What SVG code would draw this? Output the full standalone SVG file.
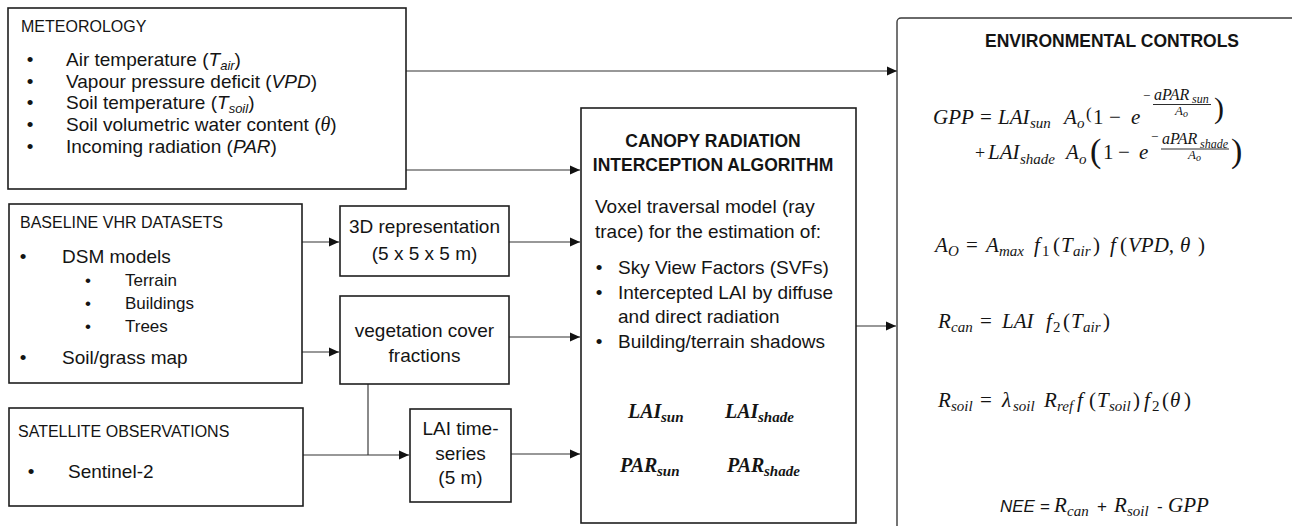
<svg xmlns="http://www.w3.org/2000/svg" width="1292" height="526" viewBox="0 0 1292 526">
<defs>
<marker id="ah" markerWidth="10" markerHeight="10" refX="10" refY="5" orient="auto" markerUnits="userSpaceOnUse"><path d="M0,0.5 L10,5 L0,9.5 Z" fill="#111"/></marker>
<style>
.box{fill:#fff;stroke:#1e1e1e;stroke-width:1.6}
.env{fill:#fff;stroke:#3a3a3a;stroke-width:1.4}
.conn{stroke:#333;stroke-width:1.2;fill:none}
.gray{stroke:#8a8a8a;stroke-width:2;fill:none}
.t{font-family:"Liberation Sans",Arial,sans-serif;font-size:19px;fill:#141414}
.h{font-size:16px}
.s{font-size:17px}
.c{text-anchor:middle}
.b{font-weight:bold;font-size:17.5px;text-anchor:middle}
.i{font-style:italic}
.m{font-family:"Liberation Serif","Times New Roman",serif;font-style:italic;font-size:21px;fill:#141414}
.sb{font-size:15px}
.up{font-style:normal}
.bm{font-weight:bold;font-size:20px}
.sf{font-family:"Liberation Sans",Arial,sans-serif;font-size:17px}
.bar{stroke:#141414;stroke-width:0.9}
</style>
</defs>
<rect width="1292" height="526" fill="#fff"/>

<g id="connectors">
<line class="conn" x1="406" y1="71" x2="897" y2="71" marker-end="url(#ah)"/>
<line class="conn" x1="406" y1="170" x2="580" y2="170" marker-end="url(#ah)"/>
<line class="conn" x1="302" y1="242" x2="339" y2="242" marker-end="url(#ah)"/>
<line class="conn" x1="302" y1="352" x2="339" y2="352" marker-end="url(#ah)"/>
<line class="conn" x1="509" y1="242" x2="580" y2="242" marker-end="url(#ah)"/>
<line class="conn" x1="509" y1="337" x2="580" y2="337" marker-end="url(#ah)"/>
<line class="gray" x1="368" y1="384" x2="368" y2="455"/>
<line class="conn" x1="303" y1="455" x2="409" y2="455" marker-end="url(#ah)"/>
<line class="conn" x1="511" y1="454" x2="580" y2="454" marker-end="url(#ah)"/>
<line class="conn" x1="856" y1="326" x2="896" y2="326" marker-end="url(#ah)"/>
</g>

<g id="meteorology">
<rect class="box" x="8" y="8" width="398" height="181"/>
<text class="t h" x="21" y="32">METEOROLOGY</text>
<text class="t c" x="30" y="66">•</text>
<text class="t" x="66" y="66">Air temperature (<tspan class="i">T</tspan><tspan class="i" font-size="13" dy="4">air</tspan><tspan dy="-4">)</tspan></text>
<text class="t c" x="30" y="88">•</text>
<text class="t" x="66" y="88">Vapour pressure deficit (<tspan class="i">VPD</tspan>)</text>
<text class="t c" x="30" y="109">•</text>
<text class="t" x="66" y="109">Soil temperature (<tspan class="i">T</tspan><tspan class="i" font-size="13" dy="4">soil</tspan><tspan dy="-4">)</tspan></text>
<text class="t c" x="30" y="131">•</text>
<text class="t" x="66" y="131">Soil volumetric water content (<tspan font-family="Liberation Serif, serif" font-style="italic" font-size="20">θ</tspan>)</text>
<text class="t c" x="30" y="153">•</text>
<text class="t" x="66" y="153">Incoming radiation (<tspan class="i">PAR</tspan>)</text>
</g>

<g id="baseline">
<rect class="box" x="9" y="204" width="293" height="179"/>
<text class="t h" x="20" y="228">BASELINE VHR DATASETS</text>
<text class="t c" x="23" y="263">•</text>
<text class="t" x="62" y="263">DSM models</text>
<text class="t s c" x="88" y="286">•</text>
<text class="t s" x="125" y="286">Terrain</text>
<text class="t s c" x="88" y="309">•</text>
<text class="t s" x="125" y="309">Buildings</text>
<text class="t s c" x="88" y="332">•</text>
<text class="t s" x="125" y="332">Trees</text>
<text class="t c" x="23" y="364">•</text>
<text class="t" x="62" y="364">Soil/grass map</text>
</g>

<g id="satellite">
<rect class="box" x="9" y="408" width="294" height="98"/>
<text class="t h" x="18" y="437">SATELLITE OBSERVATIONS</text>
<text class="t c" x="31" y="478">•</text>
<text class="t" x="68" y="478">Sentinel-2</text>
</g>

<g id="representation3d">
<rect class="box" x="340" y="206" width="169" height="70"/>
<text class="t c" x="424.5" y="233">3D representation</text>
<text class="t c" x="424.5" y="260">(5 x 5 x 5 m)</text>
</g>

<g id="vegetation">
<rect class="box" x="340" y="296" width="169" height="88"/>
<text class="t c" x="424.5" y="337">vegetation cover</text>
<text class="t c" x="424.5" y="362">fractions</text>
</g>

<g id="lai">
<rect class="box" x="410" y="409" width="101" height="93"/>
<text class="t c" x="460.5" y="435">LAI time-</text>
<text class="t c" x="460.5" y="460">series</text>
<text class="t c" x="460.5" y="484" fill="#444">(5 m)</text>
</g>

<g id="canopy">
<rect class="box" x="581" y="108" width="275" height="415"/>
<text class="t b" x="713" y="147">CANOPY RADIATION</text>
<text class="t b" x="713" y="171">INTERCEPTION ALGORITHM</text>
<text class="t" x="595" y="213">Voxel traversal model (ray</text>
<text class="t" x="595" y="238">trace) for the estimation of:</text>
<text class="t c" x="599" y="274">•</text>
<text class="t" x="618" y="274">Sky View Factors (SVFs)</text>
<text class="t c" x="599" y="299">•</text>
<text class="t" x="618" y="299">Intercepted LAI by diffuse</text>
<text class="t" x="618" y="323">and direct radiation</text>
<text class="t c" x="599" y="348">•</text>
<text class="t" x="618" y="348">Building/terrain shadows</text>
<text class="m bm"><tspan x="628" y="418">LAI</tspan><tspan x="661" y="422" font-size="15">sun</tspan></text>
<text class="m bm"><tspan x="725" y="418">LAI</tspan><tspan x="758" y="422" font-size="15">shade</tspan></text>
<text class="m bm"><tspan x="620" y="472">PAR</tspan><tspan x="657" y="476" font-size="15">sun</tspan></text>
<text class="m bm"><tspan x="727" y="472">PAR</tspan><tspan x="764" y="476" font-size="15">shade</tspan></text>
</g>

<g id="environmental">
<rect class="env" x="897" y="18" width="420" height="520" rx="4"/>
<text class="t b" x="1112" y="47" font-size="16.5">ENVIRONMENTAL CONTROLS</text>
<text class="m"><tspan x="933" y="124">GPP</tspan><tspan x="980" y="124" class="up">=</tspan><tspan x="998" y="124">LAI</tspan><tspan x="1030" y="128" class="sb">sun</tspan><tspan x="1064" y="124">A</tspan><tspan x="1077" y="128" class="sb">o</tspan><tspan x="1086" y="119" class="up" font-size="17">(</tspan><tspan x="1093" y="124" class="up">1</tspan><tspan x="1109" y="124" class="up">−</tspan><tspan x="1131" y="124">e</tspan><tspan x="1143" y="100" class="up" font-size="13">−</tspan><tspan x="1154" y="100" font-size="16">aPAR</tspan><tspan x="1192" y="103" font-size="12">sun</tspan><tspan x="1175" y="115" font-size="13">A</tspan><tspan x="1183" y="117" font-size="10">o</tspan><tspan x="1214" y="118" class="up" font-size="30">)</tspan></text>
<line class="bar" x1="1153" y1="104.5" x2="1211" y2="104.5"/>
<text class="m"><tspan x="975" y="159" class="up" font-size="18">+</tspan><tspan x="988" y="159">LAI</tspan><tspan x="1020" y="164" class="sb">shade</tspan><tspan x="1066" y="159">A</tspan><tspan x="1079" y="164" class="sb">o</tspan><tspan x="1090" y="162" class="up" font-size="34">(</tspan><tspan x="1103" y="159" class="up">1</tspan><tspan x="1118" y="159" class="up">−</tspan><tspan x="1139" y="159">e</tspan><tspan x="1151" y="141" class="up" font-size="13">−</tspan><tspan x="1162" y="144" font-size="16">aPAR</tspan><tspan x="1200" y="148" font-size="12">shade</tspan><tspan x="1188" y="159" font-size="13">A</tspan><tspan x="1196" y="161" font-size="10">o</tspan><tspan x="1231" y="162" class="up" font-size="34">)</tspan></text>
<line class="bar" x1="1161" y1="149" x2="1229" y2="149"/>
<text class="m"><tspan x="935" y="252">A</tspan><tspan x="948" y="256" class="sb">O</tspan><tspan x="966" y="252" class="up">=</tspan><tspan x="986" y="252">A</tspan><tspan x="999" y="256" class="sb">max</tspan><tspan x="1034" y="252">f</tspan><tspan x="1042" y="256" class="sb up">1</tspan><tspan x="1053" y="252" class="up">(</tspan><tspan x="1061" y="252">T</tspan><tspan x="1073" y="256" class="sb">air</tspan><tspan x="1093" y="252" class="up">)</tspan><tspan x="1110" y="252">f</tspan><tspan x="1120" y="252" class="up">(</tspan><tspan x="1128" y="252">VPD,</tspan><tspan x="1180" y="252">θ</tspan><tspan x="1198" y="252" class="up">)</tspan></text>
<text class="m"><tspan x="938" y="328">R</tspan><tspan x="951" y="332" class="sb">can</tspan><tspan x="980" y="328" class="up">=</tspan><tspan x="1002" y="328">LAI</tspan><tspan x="1046" y="328">f</tspan><tspan x="1053" y="332" class="sb up">2</tspan><tspan x="1063" y="328" class="up">(</tspan><tspan x="1071" y="328">T</tspan><tspan x="1083" y="332" class="sb">air</tspan><tspan x="1103" y="328" class="up">)</tspan></text>
<text class="m"><tspan x="938" y="407">R</tspan><tspan x="951" y="411" class="sb">soil</tspan><tspan x="980" y="407" class="up">=</tspan><tspan x="1002" y="407">λ</tspan><tspan x="1013" y="411" class="sb">soil</tspan><tspan x="1044" y="407">R</tspan><tspan x="1057" y="411" class="sb">ref</tspan><tspan x="1077" y="407">f</tspan><tspan x="1089" y="407" class="up">(</tspan><tspan x="1097" y="407">T</tspan><tspan x="1109" y="411" class="sb">soil</tspan><tspan x="1133" y="407" class="up">)</tspan><tspan x="1144" y="407">f</tspan><tspan x="1152" y="411" class="sb up">2</tspan><tspan x="1162" y="407" class="up">(</tspan><tspan x="1170" y="407">θ</tspan><tspan x="1184" y="407" class="up">)</tspan></text>
<text class="m"><tspan x="1000" y="512" class="sf">NEE =</tspan><tspan x="1054" y="512">R</tspan><tspan x="1067" y="516" class="sb">can</tspan><tspan x="1097" y="512" class="sf up">+</tspan><tspan x="1114" y="512">R</tspan><tspan x="1127" y="516" class="sb">soil</tspan><tspan x="1157" y="512" class="sf up">-</tspan><tspan x="1168" y="512">GPP</tspan></text>
</g>
</svg>
